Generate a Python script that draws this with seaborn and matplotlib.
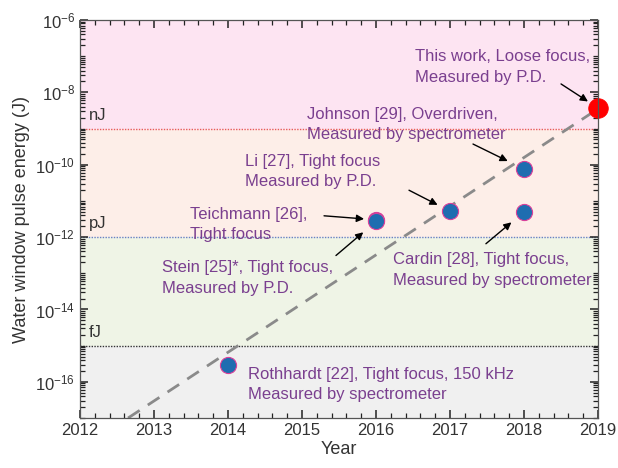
import numpy as np
import pandas as pd
import matplotlib
matplotlib.use("Agg")
import matplotlib.pyplot as plt
import matplotlib.ticker as mticker
import seaborn as sns

# ---------------- data ----------------
point_years = [2014, 2016, 2016, 2017, 2018, 2018]
point_energy = [2.9e-16, 3.0e-12, 2.7e-12, 5.2e-12, 7.6e-11, 5.0e-12]
point_names = ["Rothhardt", "Teichmann", "Stein", "Li", "Johnson", "Cardin"]

this_year = [2019]
this_energy = [3.7e-9]

trend_years = [2012.65, 2019.0]
trend_energy = [1e-17, 3.5e-9]

level_values = [1e-9, 1e-12, 1e-15]
level_names = ["nJ", "pJ", "fJ"]

label_texts = {
    "This work": "This work, Loose focus,\nMeasured by P.D.",
    "Johnson": "Johnson [29], Overdriven,\nMeasured by spectrometer",
    "Li": "Li [27], Tight focus\nMeasured by P.D.",
    "Teichmann": "Teichmann [26],\nTight focus",
    "Stein": "Stein [25]*, Tight focus,\nMeasured by P.D.",
    "Cardin": "Cardin [28], Tight focus,\nMeasured by spectrometer",
    "Rothhardt": "Rothhardt [22], Tight focus, 150 kHz\nMeasured by spectrometer",
}

# ---------------- layout (text positions, arrow offsets) ----------------
text_pos = {
    "This work": (2016.53, 10 ** -7.30),
    "Johnson": (2015.07, 10 ** -8.89),
    "Li": (2014.23, 10 ** -10.19),
    "Teichmann": (2013.49, 10 ** -11.66),
    "Stein": (2013.11, 10 ** -13.13),
    "Cardin": (2016.23, 10 ** -12.91),
    "Rothhardt": (2014.27, 10 ** -16.07),
}
# arrow tail offset from marker (points), shrink at head (points)
arrow_spec = {
    "This work": ((-26.6, 17.3), 8.6),
    "Johnson": ((-36.7, 18.0), 13.0),
    "Li": ((-29.5, 15.1), 10.0),
    "Teichmann": ((-37.4, 2.9), 8.6),
    "Stein": ((-28.8, -24.5), 12.0),
    "Cardin": ((-27.4, -23.0), 11.8),
}

sns.set_style("ticks")
plt.rcParams["font.family"] = ["Liberation Sans", "DejaVu Sans"]
plt.rcParams["mathtext.fontset"] = "custom"
plt.rcParams["mathtext.rm"] = "Liberation Sans"
plt.rcParams["mathtext.it"] = "Liberation Sans:italic"
plt.rcParams["xtick.direction"] = "in"
plt.rcParams["ytick.direction"] = "in"

fig = plt.figure(figsize=(6.18, 4.68), dpi=100)
ax = fig.add_axes([0.1294, 0.1068, 0.8382, 0.8505])

ax.set_yscale("log")
ax.set_xlim(2012, 2019)
ax.set_ylim(1e-17, 1e-6)

# background bands
band_edges = [1e-17, 1e-15, 1e-12, 1e-9, 1e-6]
band_colors = ["#f0f0f0", "#eff4e6", "#fdeee8", "#fde4f2"]
for lo, hi, c in zip(band_edges[:-1], band_edges[1:], band_colors):
    ax.axhspan(lo, hi, color=c, zorder=-5, lw=0)

level_colors = ["#e8575f", "#6b7fc4", "#333333"]
for v, n, c in zip(level_values, level_names, level_colors):
    ax.axhline(v, color=c, ls=(0, (1, 1)), lw=1.0, zorder=1)
    ax.text(2012.12, v * 1.45, n, fontsize=12, color="#333333",
            ha="left", va="bottom", zorder=2)

# trend line
trend_df = pd.DataFrame({"year": trend_years, "energy": trend_energy})
sns.lineplot(data=trend_df, x="year", y="energy", ax=ax, color="#8a8a8a",
             lw=2.0, zorder=2)
ax.lines[-1].set_dashes([5, 3.5])

# points
pts = pd.DataFrame({"year": point_years, "energy": point_energy})
sns.scatterplot(data=pts, x="year", y="energy", ax=ax, s=135,
                color="#1f6db0", edgecolor="#d9409a", linewidth=0.8,
                zorder=4, clip_on=False)
tw = pd.DataFrame({"year": this_year, "energy": this_energy})
sns.scatterplot(data=tw, x="year", y="energy", ax=ax, s=200,
                color="#ff0000", edgecolor="#ff0000", linewidth=0.5,
                zorder=5, clip_on=False)

text_color = "#7a3f8f"
all_pos = dict(zip(point_names, zip(point_years, point_energy)))
all_pos["This work"] = (this_year[0], this_energy[0])
for key, txt in label_texts.items():
    tx, ty = text_pos[key]
    ax.text(tx, ty, txt, fontsize=12, color=text_color, ha="left",
            va="center", linespacing=1.45, zorder=6)
    if key in arrow_spec:
        (dx, dy), shr = arrow_spec[key]
        ax.annotate("", xy=all_pos[key], xytext=(dx, dy),
                    textcoords="offset points",
                    arrowprops=dict(arrowstyle="-|>", color="black", lw=1.0,
                                    mutation_scale=11, shrinkA=0, shrinkB=shr),
                    zorder=6)

# ticks
ax.yaxis.set_major_locator(mticker.FixedLocator([10.0 ** e for e in range(-16, -5, 2)]))
ax.yaxis.set_major_formatter(mticker.LogFormatterSciNotation())
ax.yaxis.set_minor_locator(mticker.LogLocator(base=10, subs=np.arange(1, 10), numticks=100))
ax.yaxis.set_minor_formatter(mticker.NullFormatter())
ax.xaxis.set_major_locator(mticker.MultipleLocator(1))
ax.xaxis.set_minor_locator(mticker.MultipleLocator(0.2))
ax.xaxis.set_major_formatter(mticker.FormatStrFormatter("%d"))

ax.set_axisbelow(False)
ax.tick_params(which="both", direction="in", top=True, right=True,
               bottom=True, left=True,
               colors="#222222", labelcolor="#333333", labelsize=12)
ax.tick_params(which="major", length=6, width=1.1)
ax.tick_params(which="minor", length=3.5, width=0.9)
for sp in ax.spines.values():
    sp.set_color("#555555")
    sp.set_linewidth(0.9)
    sp.set_zorder(7)

ax.set_xlabel("Year", fontsize=13, color="#333333", labelpad=2)
ax.set_ylabel("Water window pulse energy (J)", fontsize=13, color="#333333",
              labelpad=4)

fig.savefig("out.png", dpi=100)
